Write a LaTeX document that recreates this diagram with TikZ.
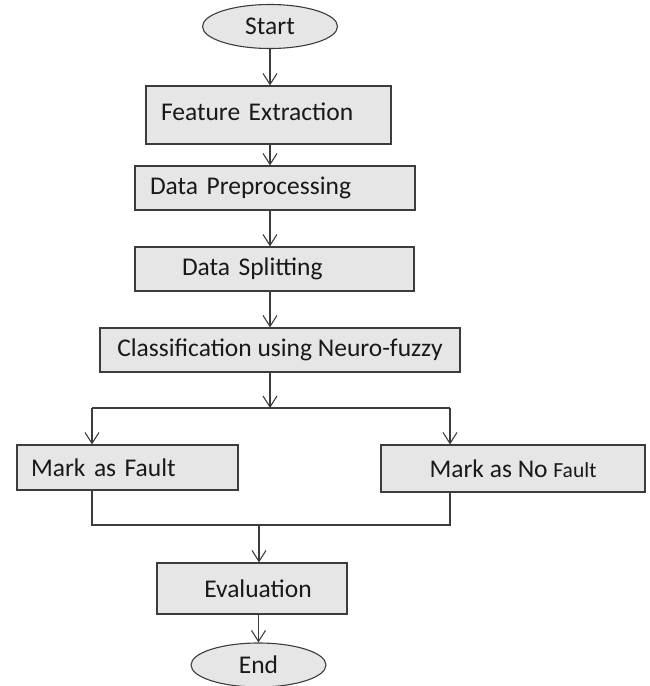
\documentclass[tikz,border=0pt]{standalone}
\usepackage{fontspec}
\usepackage{xcolor}
\setmainfont{Carlito}
\usetikzlibrary{calc,shapes.geometric,arrows.meta,positioning}
\definecolor{boxgray}{RGB}{230,230,230}
\definecolor{linegray}{RGB}{60,60,60}

\begin{document}
\begin{tikzpicture}[x=1pt, y=-1pt,
  every node/.style={font=\fontsize{25.5}{30}\selectfont, text=black!90},
  block/.style={rectangle, draw=linegray, fill=boxgray, line width=1.1pt, inner sep=0pt},
  terminal/.style={ellipse, draw=linegray, fill=boxgray, line width=1.1pt, inner sep=0pt, minimum width=135pt, minimum height=44pt},
  line/.style={linegray, line width=1.1pt},
  arrow/.style={line, -{Straight Barb[length=11pt, width=14pt]}}
]
  \useasboundingbox (0,0) rectangle (649,686);

  \node[terminal] (start) at (270,26.5) {Start};
  \node[block, minimum width=245pt, minimum height=58pt, text width=215pt, align=left] (feature) at (268.5,115) {\raisebox{7pt}{Feature Extraction}};
  \node[block, minimum width=280pt, minimum height=44pt, text width=250pt, align=left] (prep) at (275,188) {\raisebox{-9pt}{Data Preprocessing}};
  \node[block, minimum width=279pt, minimum height=44pt, text width=185pt, align=left] (splitting) at (274.5,269) {\raisebox{-8pt}{Data Splitting}};
  \node[block, minimum width=360pt, minimum height=44pt] (classify) at (280,350) {Classification using Neuro-fuzzy};
  \node[block, minimum width=221pt, minimum height=45pt, text width=193pt, align=left] (fault) at (127.5,467.5) {Mark as Fault};
  \node[block, minimum width=264pt, minimum height=47pt] (nofault) at (513,468.5) {Mark as No {\fontsize{21.5}{26}\selectfont Fault}};
  \node[block, minimum width=190pt, minimum height=51pt] (eval) at (252,588.5) {\raisebox{-5pt}{\hspace*{12pt}Evaluation}};
  \node[terminal] (end) at (258.5,665) {End};

  % branch and merge points
  \coordinate (brL) at (92,408);
  \coordinate (brM) at (270,408);
  \coordinate (brR) at (450,408);
  \coordinate (mgL) at (92,525);
  \coordinate (mgM) at (259,525);
  \coordinate (mgR) at (450,525);

  \draw[arrow] (start.south) -- (start.south |- feature.north);
  \draw[arrow] (start.south |- feature.south) -- (start.south |- prep.north);
  \draw[arrow] (start.south |- prep.south) -- (start.south |- splitting.north);
  \draw[arrow] (start.south |- splitting.south) -- (start.south |- classify.north);
  \draw[arrow] (brM |- classify.south) -- (brM);

  \draw[line] (brL) -- (brR);
  \draw[arrow] (brL) -- (brL |- fault.north);
  \draw[arrow] (brR) -- (brR |- nofault.north);

  \draw[line] (mgL |- fault.south) -- (mgL) -- (mgR) -- (mgR |- nofault.south);
  \draw[arrow] (mgM) -- (mgM |- eval.north);
  \draw[arrow] (end.north |- eval.south) -- (end.north);
\end{tikzpicture}
\end{document}
